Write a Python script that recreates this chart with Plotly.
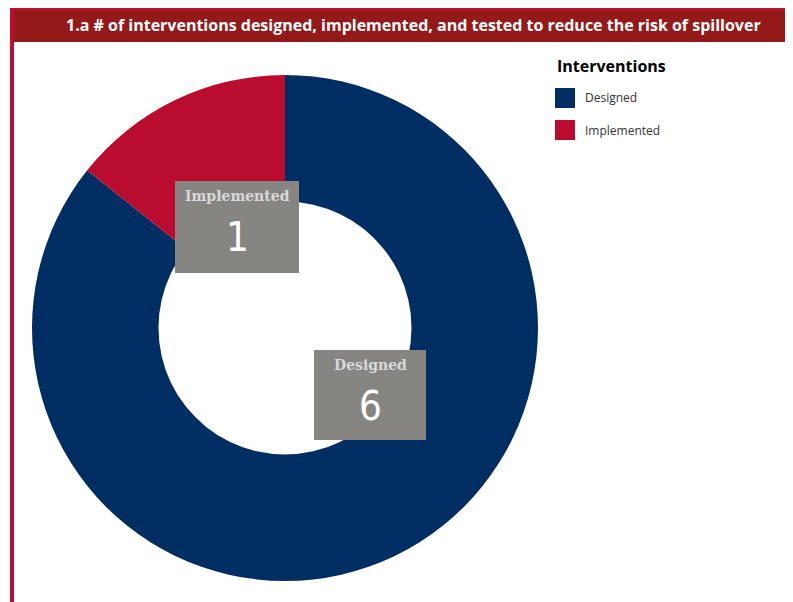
import plotly.graph_objects as go

categories = ["Designed", "Implemented"]
values = [6, 1]
colors = ["#002d62", "#ba0c2f"]
title_text = "1.a # of interventions designed, implemented, and tested to reduce the risk of spillover"
legend_title = "Interventions"

OFF = 8  # page body margin offset
W, H = 793 - OFF, 602 - OFF

def px(x):
    return (x - OFF) / W

def py(y):
    return 1 - (y - OFF) / H

fig = go.Figure()
fig.add_trace(go.Pie(
    labels=categories,
    values=values,
    hole=0.5,
    sort=False,
    direction="clockwise",
    rotation=0,
    marker=dict(colors=colors, line=dict(width=0)),
    textinfo="none",
    domain=dict(x=[px(285 - 253), px(285 + 253)], y=[py(328 + 253), py(328 - 253)]),
    showlegend=False,
))

# label boxes: (index, x0, x1, y0, y1)
boxes = [(1, 175, 299, 181, 273), (0, 314, 426, 350, 440)]
for i, x0, x1, y0, y1 in boxes:
    fig.add_shape(type="rect", xref="paper", yref="paper",
                  x0=px(x0), x1=px(x1), y0=py(y1), y1=py(y0),
                  fillcolor="#878582", line=dict(width=0), layer="above")
    cx = (x0 + x1) / 2
    fig.add_annotation(x=px(cx), y=py(y0 + 15), xref="paper", yref="paper",
                       xanchor="center", yanchor="middle", showarrow=False,
                       text=f"<b>{categories[i]}</b>",
                       font=dict(family="DejaVu Serif", size=14, color="#d9d9d9"))
    fig.add_annotation(x=px(cx), y=py(y0 + 56), xref="paper", yref="paper",
                       xanchor="center", yanchor="middle", showarrow=False,
                       text=f"{values[i]}",
                       font=dict(family="Liberation Sans Narrow, DejaVu Sans Condensed, sans-serif", size=40, color="#ffffff"))

# custom legend built from the category/colour arrays
fig.add_annotation(x=px(555), y=py(66), xref="paper", yref="paper",
                   xanchor="left", yanchor="middle", showarrow=False,
                   text=f"<b>{legend_title}</b>",
                   font=dict(family="Open Sans", size=16, color="#000000"))
for k, (cat, col) in enumerate(zip(categories, colors)):
    yc = 98 + 32 * k
    fig.add_shape(type="rect", xref="paper", yref="paper",
                  x0=px(555), x1=px(575), y0=py(yc + 10), y1=py(yc - 10),
                  fillcolor=col, line=dict(width=0))
    fig.add_annotation(x=px(583), y=py(yc), xref="paper", yref="paper",
                       xanchor="left", yanchor="middle", showarrow=False,
                       text=cat, font=dict(family="Open Sans", size=12, color="#333333"))

# title bar
fig.add_shape(type="rect", xref="paper", yref="paper",
              x0=px(10), x1=1.02, y0=py(42), y1=py(8),
              fillcolor="#941919", line=dict(width=0), layer="above")
fig.add_shape(type="rect", xref="paper", yref="paper",
              x0=px(10), x1=1.02, y0=py(10), y1=py(8),
              fillcolor="#c0102f", line=dict(width=0), layer="above")
# left border
fig.add_shape(type="rect", xref="paper", yref="paper",
              x0=px(10), x1=px(14), y0=-0.02, y1=py(8),
              fillcolor="#bd0e31", line=dict(width=0), layer="above")
fig.add_annotation(x=px(413), y=py(25), xref="paper", yref="paper",
                   xanchor="center", yanchor="middle", showarrow=False,
                   text=f"<b>{title_text}</b>",
                   font=dict(family="Open Sans", size=16, color="#ffffff"))

fig.update_layout(
    width=W, height=H,
    margin=dict(l=0, r=0, t=0, b=0),
    paper_bgcolor="#ffffff",
    plot_bgcolor="#ffffff",
    showlegend=False,
)

fig.write_html("out.html")
